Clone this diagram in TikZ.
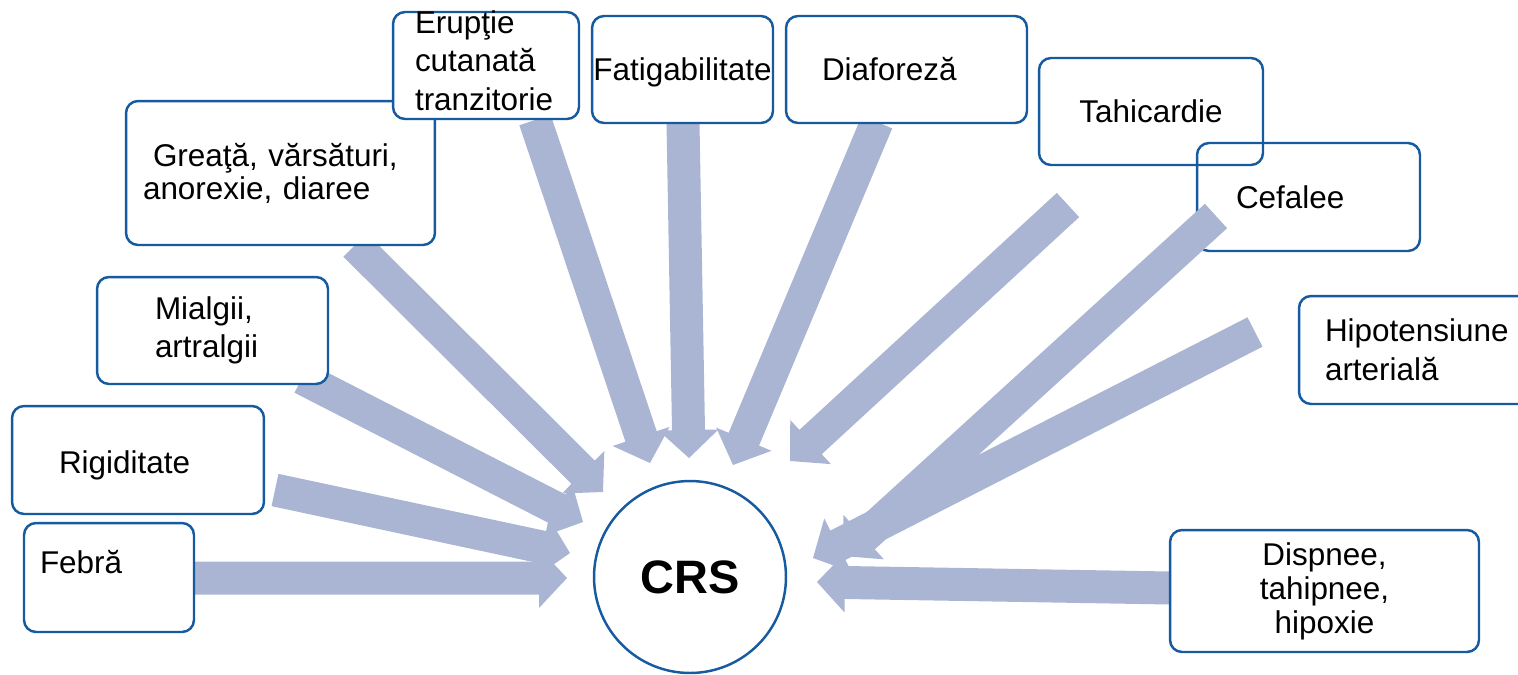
\documentclass[tikz,border=0pt]{standalone}
\usepackage{fontspec}
\setmainfont{Liberation Sans}
\usetikzlibrary{calc, positioning}
\definecolor{boksblaa}{RGB}{22,90,160}
\definecolor{pilfarge}{RGB}{169,181,210}
\newcommand{\fatarrow}[2]{%
  \coordinate (hb) at ($(#2)!0.56cm!(#1)$);
  \fill[pil] ($(#1)!0.33cm!90:(#2)$) -- ($(hb)!0.33cm!90:(#2)$)
    -- ($(hb)!0.6cm!90:(#2)$) -- (#2) -- ($(hb)!0.6cm!-90:(#2)$)
    -- ($(hb)!0.33cm!-90:(#2)$) -- ($(#1)!0.33cm!-90:(#2)$) -- cycle;
}

\begin{document}
\begin{tikzpicture}[
    x = 0.02cm, y = -0.02cm,
    boks/.style 2 args = {rectangle, rounded corners=0.24cm, draw=boksblaa,
      line width=1.4pt, fill=white, inner sep=0pt,
      minimum width=#1, minimum height=#2},
    sirkel/.style = {circle, draw=boksblaa, line width=1.4pt, fill=white,
      inner sep=0pt, minimum size=3.84cm,
      font=\fontsize{26.7}{32}\selectfont\bfseries},
    pil/.style = {pilfarge},
    font=\fontsize{17.9}{22}\selectfont
    ]
  \useasboundingbox (0,0) rectangle (1518,674);

  % the two boxes that overlap, arrows go over them
  \node[boks={4.48cm}{2.14cm}, fill=none] (tahic) at (1151,111.5) {Tahicardie} ;
  \node[boks={4.46cm}{2.16cm}, fill=none, text width=2.9cm, align=left] (cefal) at (1308.5,197) {Cefalee} ;

  \coordinate (febra-o) at (195,578) ;   \coordinate (febra-i) at (567,578) ;
  \coordinate (rigid-o) at (275,490) ;   \coordinate (rigid-i) at (570,553) ;
  \coordinate (mialg-o) at (302,378) ;   \coordinate (mialg-i) at (583,522) ;
  \coordinate (greata-o) at (355,245) ;  \coordinate (greata-i) at (603,492) ;
  \coordinate (erupt-o) at (535,120) ;   \coordinate (erupt-i) at (650,463) ;
  \coordinate (fatig-o) at (683,123) ;   \coordinate (fatig-i) at (689,458) ;
  \coordinate (diafor-o) at (877,122) ;  \coordinate (diafor-i) at (733,465) ;
  \coordinate (tahic-o) at (1068,205) ;  \coordinate (tahic-i) at (790,461) ;
  \coordinate (cefal-o) at (1216,216) ;  \coordinate (cefal-i) at (843,556) ;
  \coordinate (hipot-o) at (1255,332) ;  \coordinate (hipot-i) at (813,558) ;
  \coordinate (dispn-o) at (1170,588) ;  \coordinate (dispn-i) at (817,582) ;

  \fatarrow{febra-o}{febra-i}
  \fatarrow{rigid-o}{rigid-i}
  \fatarrow{mialg-o}{mialg-i}
  \fatarrow{greata-o}{greata-i}
  \fatarrow{erupt-o}{erupt-i}
  \fatarrow{fatig-o}{fatig-i}
  \fatarrow{diafor-o}{diafor-i}
  \fatarrow{tahic-o}{tahic-i}
  \fatarrow{cefal-o}{cefal-i}
  \fatarrow{hipot-o}{hipot-i}
  \fatarrow{dispn-o}{dispn-i}

  \node[boks={3.4cm}{2.18cm}, text width=2.76cm, align=left] (febra) at (109,577.5) {\raisebox{0.3cm}[\height][\depth]{Febră}} ;
  \node[boks={5.04cm}{2.16cm}, text width=3.16cm, align=left] (rigid) at (138,460) {\raisebox{-0.1cm}[\height][\depth]{Rigiditate}} ;
  \node[boks={4.62cm}{2.14cm}, text width=2.3cm, align=left] (mialg) at (212.5,330.5) {Mialgii,\\artralgii} ;
  \node[boks={6.18cm}{2.88cm}, text width=5.5cm, align=left,
        font=\fontsize{17.9}{18.8}\selectfont] (greata) at (280.5,173) {\hspace*{0.2cm}Greaţă, vărsături,\\anorexie, diaree} ;
  \node[boks={3.72cm}{2.14cm}, text width=2.84cm, align=left, text height=0.26cm] (erupt) at (486,65.5) {Erupţie\\cutanată\\tranzitorie} ;
  \node[boks={3.62cm}{2.14cm}] (fatig) at (682.5,69.5) {\raisebox{-0.06cm}[\height][\depth]{Fatigabilitate}} ;
  \node[boks={4.82cm}{2.14cm}, text width=3.38cm, align=left] (diafor) at (906.5,69.5) {Diaforeză} ;
  \node[boks={4.82cm}{2.16cm}, text width=3.78cm, align=left] (hipot) at (1419.5,350) {Hipotensiune\\arterială} ;
  \node[boks={6.18cm}{2.44cm}, align=center,
        font=\fontsize{17.9}{19.3}\selectfont] (dispn) at (1324.5,591) {Dispnee,\\tahipnee,\\hipoxie} ;
  \node[sirkel] (crs) at (690,577) {CRS} ;
\end{tikzpicture}
\end{document}
